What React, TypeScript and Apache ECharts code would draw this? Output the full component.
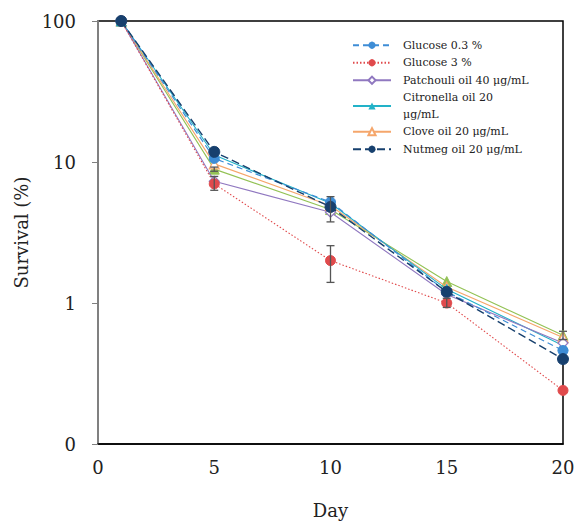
import React, { useEffect, useRef } from "react";
import * as echarts from "echarts";

const days = [1, 5, 10, 15, 20];
const xTicks = [0, 5, 10, 15, 20];
const yTickLabels: Record<string, string> = { "0.1": "0", "1": "1", "10": "10", "100": "100" };

const glucose03 = [100, 10.6, 5.2, 1.2, 0.46];
const glucose3 = [100, 7.0, 2.0, 1.0, 0.24];
const patchouli = [100, 7.3, 4.4, 1.15, 0.52];
const citronella = [100, 11.2, 5.1, 1.25, 0.5];
const clove = [100, 9.7, 4.9, 1.3, 0.57];
const nutmeg = [100, 11.8, 4.8, 1.2, 0.4];
const extraGreen = [100, 8.9, 4.6, 1.42, 0.59];

// error bars: [day, low, high]
const errorBars: number[][] = [
  [5, 6.3, 7.9],
  [5, 8.6, 9.2],
  [10, 1.4, 2.55],
  [10, 3.76, 5.68],
  [15, 0.93, 1.08],
  [20, 0.55, 0.63],
];

const seriesNames = [
  "Glucose 0.3 %",
  "Glucose 3 %",
  "Patchouli oil 40 μg/mL",
  "Citronella oil 20 μg/mL",
  "Clove oil 20 μg/mL",
  "Nutmeg oil 20 μg/mL",
];

const pair = (vals: number[]) => days.map((d, i) => [d, vals[i]]);

export default function App() {
  const ref = useRef<HTMLDivElement>(null);
  useEffect(() => {
    if (!ref.current) return;
    const chart = echarts.init(ref.current, null, { renderer: "svg" });
    const font = "DejaVu Serif";
    const mk = (
      name: string,
      vals: number[],
      color: string,
      symbol: string,
      size: number,
      lineType: any,
      width: number,
      hollow = false,
      z = 2
    ) => ({
      name,
      type: "line",
      data: pair(vals),
      symbol,
      symbolSize: size,
      z,
      lineStyle: { color, width, type: lineType },
      itemStyle: hollow
        ? { color: "#fff", borderColor: color, borderWidth: 1.2 }
        : { color, borderColor: color },
    });
    chart.setOption({
      animation: false,
      grid: {
        left: 98,
        right: 11,
        top: 21,
        bottom: 78,
        show: true,
        borderColor: "#000",
        borderWidth: 1.5,
        containLabel: false,
        outerBoundsMode: "none",
      },
      legend: {
        data: seriesNames,
        orient: "vertical",
        left: 347,
        top: 32,
        itemWidth: 38,
        itemHeight: 9,
        itemGap: 1,
        formatter: (n: string) => (n === "Citronella oil 20 μg/mL" ? "Citronella oil 20\nμg/mL" : n),
        textStyle: { fontFamily: font, fontSize: 11, color: "#222", lineHeight: 16.5, padding: [0, 0, 0, 7] },
      },
      xAxis: {
        type: "value",
        min: 0,
        max: 20,
        interval: 5,
        name: "Day",
        nameLocation: "middle",
        nameGap: 57,
        nameTextStyle: { fontFamily: font, fontSize: 18, color: "#222" },
        axisLine: { lineStyle: { color: "#000", width: 1.5 } },
        axisTick: { show: false },
        splitLine: { show: false },
        axisLabel: {
          fontFamily: font,
          fontSize: 18,
          color: "#222",
          margin: 14,
          formatter: (v: number) => (xTicks.includes(v) ? String(v) : ""),
        },
      },
      yAxis: {
        type: "log",
        logBase: 10,
        min: 0.1,
        max: 100,
        name: "Survival (%)",
        nameLocation: "middle",
        nameGap: 63,
        nameTextStyle: { fontFamily: font, fontSize: 18, color: "#222" },
        axisLine: { lineStyle: { color: "#808080", width: 2 } },
        axisTick: { show: true, length: 6, lineStyle: { color: "#808080" } },
        splitLine: { show: false },
        axisLabel: {
          fontFamily: font,
          fontSize: 18,
          color: "#222",
          margin: 22,
          formatter: (v: number) => {
            const k = String(Math.round(v * 10) / 10);
            return yTickLabels[k] ?? k;
          },
        },
      },
      series: [
        mk("green", extraGreen, "#93C255", "triangle", 10, "solid", 1.1, false, 2),
        mk(seriesNames[4], clove, "#F5A66B", "triangle", 10, "solid", 1.1, true, 3),
        mk(seriesNames[3], citronella, "#22B2C8", "triangle", 10, "solid", 1.1, false, 3),
        mk(seriesNames[2], patchouli, "#9078C0", "diamond", 10, "solid", 1.1, true, 3),
        mk(seriesNames[0], glucose03, "#3E8DD6", "circle", 10, [6, 4], 1.2, false, 4),
        mk(seriesNames[1], glucose3, "#E04A4C", "circle", 10, [1.5, 2], 1.1, false, 4),
        mk(seriesNames[5], nutmeg, "#17406E", "circle", 11, [8, 4], 1.4, false, 5),
        {
          name: "err",
          type: "custom",
          z: 6,
          data: errorBars,
          renderItem: (params: any, api: any) => {
            const x = api.value(0);
            const lo = api.coord([x, api.value(1)]);
            const hi = api.coord([x, api.value(2)]);
            const c = 4;
            const style = { stroke: "#555", lineWidth: 1.3 };
            return {
              type: "group",
              children: [
                { type: "line", shape: { x1: lo[0], y1: lo[1], x2: hi[0], y2: hi[1] }, style },
                { type: "line", shape: { x1: lo[0] - c, y1: lo[1], x2: lo[0] + c, y2: lo[1] }, style },
                { type: "line", shape: { x1: hi[0] - c, y1: hi[1], x2: hi[0] + c, y2: hi[1] }, style },
              ],
            };
          },
        },
      ],
    });
    return () => chart.dispose();
  }, []);
  return <div ref={ref} style={{ width: 574, height: 522, position: "absolute", left: 0, top: 0 }} />;
}
